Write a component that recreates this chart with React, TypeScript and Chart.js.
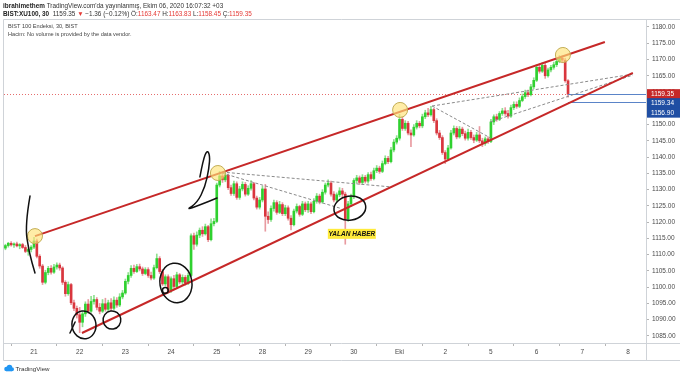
import React, { useEffect, useRef } from "react";
import { Chart, registerables } from "chart.js";
Chart.register(...registerables);

type Bar = [number, number, number, number]; // open, high, low, close

const sep18: Bar[] = [
  [1112.0, 1113.2, 1111.5, 1112.8], [1112.8, 1113.8, 1112.3, 1113.5], [1113.5, 1114.0, 1112.6, 1113.0],
  [1113.0, 1113.6, 1112.2, 1113.3], [1113.3, 1113.9, 1112.4, 1112.7], [1112.7, 1113.4, 1111.8, 1113.1],
  [1113.1, 1113.5, 1111.9, 1112.2], [1112.2, 1112.8, 1110.6, 1111.0], [1111.0, 1112.0, 1109.8, 1111.6],
  [1111.6, 1112.8, 1110.8, 1112.3],
];
const sep21: Bar[] = [
  [1112.3, 1115.3, 1111.8, 1114.2], [1114.2, 1114.8, 1109.0, 1109.5], [1109.5, 1110.0, 1105.8, 1106.5],
  [1106.5, 1107.0, 1100.8, 1101.5], [1101.5, 1105.2, 1101.0, 1104.5], [1104.5, 1106.4, 1103.8, 1105.8],
  [1105.8, 1106.6, 1104.0, 1104.6], [1104.6, 1107.0, 1104.2, 1106.2], [1106.2, 1107.5, 1105.5, 1106.8],
  [1106.8, 1107.4, 1105.2, 1105.9], [1105.9, 1106.3, 1100.8, 1101.5], [1101.5, 1102.0, 1097.2, 1098.0],
  [1098.0, 1101.6, 1097.5, 1100.8], [1100.8, 1101.2, 1094.6, 1095.2], [1095.2, 1096.0, 1092.8, 1093.5],
  [1093.5, 1094.2, 1090.5, 1091.5],
];
const sep22: Bar[] = [
  [1091.5, 1093.8, 1086.0, 1089.2], [1089.2, 1092.5, 1087.8, 1091.8], [1091.8, 1095.5, 1091.0, 1094.8],
  [1094.8, 1096.2, 1092.0, 1092.6], [1092.6, 1097.2, 1092.2, 1095.6], [1095.6, 1097.5, 1094.8, 1096.2],
  [1096.2, 1096.8, 1093.0, 1093.8], [1093.8, 1095.0, 1091.8, 1092.6], [1092.6, 1096.2, 1092.2, 1094.9],
  [1094.9, 1096.6, 1092.6, 1093.2], [1093.2, 1096.0, 1092.5, 1095.2], [1095.2, 1096.5, 1092.8, 1093.5],
  [1093.5, 1097.0, 1093.0, 1096.0], [1096.0, 1096.8, 1093.8, 1094.5], [1094.5, 1098.0, 1094.0, 1097.0],
  [1097.0, 1099.0, 1096.4, 1098.2],
];
const sep23: Bar[] = [
  [1098.2, 1102.5, 1097.8, 1101.8], [1101.8, 1104.5, 1101.0, 1103.6], [1103.6, 1106.6, 1103.0, 1105.8],
  [1105.8, 1106.8, 1104.2, 1104.8], [1104.8, 1107.0, 1104.5, 1106.3], [1106.3, 1107.1, 1105.0, 1105.6],
  [1105.6, 1106.2, 1103.6, 1104.2], [1104.2, 1106.0, 1103.8, 1105.4], [1105.4, 1106.0, 1103.0, 1103.6],
  [1103.6, 1104.6, 1102.2, 1102.8], [1102.8, 1106.8, 1102.4, 1106.0], [1106.0, 1110.2, 1105.6, 1108.8],
  [1108.8, 1109.4, 1104.2, 1104.8], [1104.8, 1105.5, 1100.5, 1101.0], [1101.0, 1103.8, 1100.4, 1103.2],
  [1103.2, 1103.8, 1098.2, 1099.0],
];
const sep24: Bar[] = [
  [1099.0, 1103.2, 1098.4, 1102.6], [1102.6, 1103.6, 1099.6, 1100.2], [1100.2, 1104.6, 1099.8, 1103.8],
  [1103.8, 1104.2, 1101.0, 1101.6], [1101.6, 1103.8, 1100.8, 1103.0], [1103.0, 1103.6, 1100.6, 1101.2],
  [1101.2, 1104.4, 1100.8, 1103.6], [1103.6, 1116.4, 1103.2, 1115.8], [1115.8, 1116.6, 1111.6, 1113.2],
  [1113.2, 1117.0, 1112.6, 1116.0], [1116.0, 1118.2, 1115.2, 1117.5], [1117.5, 1118.6, 1115.6, 1116.4],
  [1116.4, 1119.4, 1116.0, 1118.6], [1118.6, 1119.0, 1114.0, 1114.6], [1114.6, 1121.0, 1114.2, 1119.5],
  [1119.5, 1121.2, 1118.8, 1120.2],
];
const sep25: Bar[] = [
  [1120.2, 1132.0, 1119.8, 1131.4], [1131.4, 1135.6, 1130.8, 1134.2], [1134.2, 1135.2, 1132.2, 1133.0],
  [1133.0, 1135.0, 1132.4, 1134.4], [1134.4, 1134.8, 1130.0, 1130.6], [1130.6, 1131.4, 1128.2, 1128.8],
  [1128.8, 1132.6, 1128.2, 1131.8], [1131.8, 1132.4, 1127.0, 1127.6], [1127.6, 1131.0, 1127.0, 1130.2],
  [1130.2, 1132.4, 1129.6, 1131.6], [1131.6, 1132.2, 1128.0, 1128.6], [1128.6, 1131.2, 1128.2, 1130.4],
  [1130.4, 1132.8, 1129.8, 1131.8], [1131.8, 1132.2, 1126.8, 1127.4], [1127.4, 1128.0, 1124.0, 1124.6],
  [1124.6, 1127.6, 1124.0, 1126.8],
];
const sep28: Bar[] = [
  [1126.8, 1131.0, 1126.2, 1130.2], [1130.2, 1131.6, 1117.2, 1121.8], [1121.8, 1123.2, 1119.6, 1120.8],
  [1120.8, 1125.0, 1120.2, 1124.2], [1124.2, 1126.8, 1123.4, 1126.0], [1126.0, 1126.6, 1122.4, 1123.0],
  [1123.0, 1126.4, 1122.6, 1125.4], [1125.4, 1126.0, 1122.0, 1122.6], [1122.6, 1125.2, 1122.0, 1124.4],
  [1124.4, 1125.0, 1120.6, 1121.2], [1121.2, 1122.0, 1117.6, 1119.2], [1119.2, 1124.0, 1118.8, 1123.4],
  [1123.4, 1125.6, 1122.8, 1124.8], [1124.8, 1125.2, 1121.8, 1122.4], [1122.4, 1126.4, 1122.0, 1125.6],
  [1125.6, 1126.2, 1123.2, 1123.8],
];
const sep29: Bar[] = [
  [1123.8, 1126.4, 1123.0, 1125.6], [1125.6, 1126.2, 1122.6, 1123.2], [1123.2, 1127.2, 1122.8, 1126.4],
  [1126.4, 1128.8, 1125.8, 1128.0], [1128.0, 1128.6, 1125.6, 1126.2], [1126.2, 1130.0, 1125.8, 1129.2],
  [1129.2, 1132.0, 1128.6, 1131.4], [1131.4, 1133.0, 1130.8, 1132.0], [1132.0, 1132.6, 1128.0, 1128.6],
  [1128.6, 1129.4, 1126.2, 1126.8], [1126.8, 1129.0, 1126.2, 1128.4], [1128.4, 1130.6, 1127.8, 1129.6],
  [1129.6, 1130.4, 1127.8, 1128.6], [1128.6, 1129.2, 1113.2, 1121.0], [1121.0, 1126.4, 1120.2, 1125.6],
  [1125.6, 1128.6, 1124.8, 1127.8],
];
const sep30: Bar[] = [
  [1127.8, 1133.4, 1127.2, 1132.8], [1132.8, 1134.4, 1132.0, 1133.6], [1133.6, 1134.2, 1131.6, 1132.2],
  [1132.2, 1134.6, 1131.6, 1133.8], [1133.8, 1134.4, 1132.0, 1132.6], [1132.6, 1135.2, 1132.0, 1134.6],
  [1134.6, 1135.4, 1132.8, 1133.4], [1133.4, 1136.6, 1133.0, 1135.8], [1135.8, 1137.4, 1135.2, 1136.6],
  [1136.6, 1137.2, 1135.0, 1135.6], [1135.6, 1138.8, 1135.2, 1138.0], [1138.0, 1140.4, 1137.6, 1139.6],
  [1139.6, 1140.2, 1138.0, 1138.6], [1138.6, 1143.0, 1138.2, 1142.2], [1142.2, 1145.4, 1141.6, 1144.6],
  [1144.6, 1146.6, 1144.0, 1145.8],
];
const oct1: Bar[] = [
  [1145.8, 1153.2, 1145.2, 1151.6], [1151.6, 1152.4, 1148.2, 1148.8], [1148.8, 1151.2, 1148.2, 1150.4],
  [1150.4, 1151.0, 1146.8, 1147.4], [1147.4, 1148.4, 1143.2, 1146.8], [1146.8, 1150.0, 1146.4, 1149.2],
  [1149.2, 1151.2, 1148.6, 1150.4], [1150.4, 1151.0, 1149.0, 1149.6], [1149.6, 1153.2, 1149.0, 1152.4],
  [1152.4, 1154.4, 1151.8, 1153.6], [1153.6, 1155.0, 1152.4, 1153.0], [1153.0, 1155.6, 1152.6, 1154.6],
  [1154.6, 1155.0, 1150.6, 1151.2], [1151.2, 1151.8, 1146.8, 1147.4], [1147.4, 1148.2, 1145.4, 1146.0],
  [1146.0, 1146.6, 1140.8, 1141.4],
];
const oct2: Bar[] = [
  [1141.4, 1142.0, 1138.0, 1139.4], [1139.4, 1143.6, 1139.0, 1142.8], [1142.8, 1148.2, 1142.4, 1147.4],
  [1147.4, 1149.6, 1146.8, 1148.8], [1148.8, 1149.4, 1145.6, 1146.2], [1146.2, 1149.4, 1145.8, 1148.6],
  [1148.6, 1149.2, 1146.6, 1147.2], [1147.2, 1148.0, 1145.2, 1145.8], [1145.8, 1148.6, 1145.2, 1147.6],
  [1147.6, 1148.2, 1145.4, 1146.0], [1146.0, 1146.8, 1144.4, 1145.2], [1145.2, 1147.6, 1144.8, 1146.8],
  [1146.8, 1149.4, 1144.4, 1145.0], [1145.0, 1145.8, 1143.2, 1144.2], [1144.2, 1146.2, 1143.6, 1145.6],
  [1145.6, 1146.2, 1144.2, 1144.8],
];
const oct5: Bar[] = [
  [1144.8, 1151.6, 1144.4, 1150.8], [1150.8, 1153.0, 1150.0, 1152.4], [1152.4, 1153.2, 1151.0, 1151.6],
  [1151.6, 1154.0, 1151.2, 1153.4], [1153.4, 1155.0, 1152.8, 1154.2], [1154.2, 1155.2, 1152.8, 1153.4],
  [1153.4, 1154.4, 1152.0, 1152.6], [1152.6, 1156.0, 1152.2, 1155.2], [1155.2, 1157.0, 1154.6, 1156.2],
  [1156.2, 1157.0, 1155.0, 1155.6], [1155.6, 1158.2, 1155.2, 1157.4], [1157.4, 1159.4, 1157.0, 1158.6],
  [1158.6, 1160.6, 1158.0, 1159.8], [1159.8, 1160.6, 1158.6, 1159.2], [1159.2, 1162.4, 1158.8, 1161.6],
  [1161.6, 1164.4, 1161.0, 1163.6],
];
const oct6: Bar[] = [
  [1163.6, 1168.4, 1163.2, 1167.6], [1167.6, 1168.6, 1165.8, 1166.4], [1166.4, 1169.0, 1166.0, 1168.2],
  [1168.2, 1168.8, 1164.2, 1165.0], [1165.0, 1167.4, 1164.6, 1166.8], [1166.8, 1168.2, 1166.2, 1167.6],
  [1167.6, 1169.2, 1167.0, 1168.4], [1168.4, 1170.2, 1167.8, 1169.4], [1169.4, 1171.2, 1169.0, 1170.4],
  [1170.4, 1171.2, 1169.0, 1169.8], [1169.8, 1170.4, 1163.0, 1163.47], [1163.47, 1163.83, 1158.45, 1159.35],
];

const sessions: Bar[][] = [sep18, sep21, sep22, sep23, sep24, sep25, sep28, sep29, sep30, oct1, oct2, oct5, oct6];
const sessionStart = [-10, 0, 16, 32, 48, 64, 80, 96, 112, 128, 144, 160, 176];

const dayTickIndex = [0, 16, 32, 48, 64, 80, 96, 112, 128, 144, 160, 176, 192, 208];
const dayTickLabels = ["21", "22", "23", "24", "25", "28", "29", "30", "Eki", "2", "5", "6", "7", "8"];
const priceTicks = [1085, 1090, 1095, 1100, 1105, 1110, 1115, 1120, 1125, 1130, 1135, 1140, 1145, 1150, 1155, 1160, 1165, 1170, 1175, 1180];

const lastClose = 1159.35;
const lastIndex = 187;
const blueLevels = [1159.34, 1156.9];

// drawings in (bar index, price)
const upperChannel = [[0.35, 1115.7], [199.9, 1175.4]];
const lowerChannel = [[16.8, 1085.9], [209.7, 1165.9]];
const dashedLines = [
  [[65.8, 1135.4], [125.4, 1130.8]],
  [[65.8, 1135.1], [107.1, 1124.3]],
  [[139.4, 1155.7], [160.4, 1145.6]],
  [[139.4, 1155.7], [209.7, 1165.5]],
  [[159.7, 1150.8], [209.7, 1165.2]],
];
const touchPoints = [[0.35, 1115.7], [64.4, 1135.1], [128.2, 1154.5], [185.2, 1171.4]];
const penStrokes = [
  [[-1.4, 1128.0], [-3.15, 1119.1], [-1.75, 1110.8], [0.35, 1104.35]],
  [[58.1, 1133.9], [59.2, 1139.1], [60.6, 1142.2], [61.6, 1140.6], [61.3, 1136.6], [59.9, 1130.8], [57.1, 1125.9], [53.2, 1123.7], [58.1, 1125.3], [64.1, 1127.4]],
  [[12.6, 1085.9], [14.4, 1089.3]],
];
const penEllipses = [
  // cx, cy, rx (bars), ry (price)
  [17.5, 1088.4, 4.2, 4.3],
  [27.3, 1089.9, 3.1, 2.8],
  [49.7, 1101.3, 5.6, 6.1],
  [46.0, 1099.0, 1.0, 0.9],
  [110.6, 1124.3, 5.6, 3.7],
];
const noteLabel = { text: "YALAN HABER", x: 111.3, y: 1116.4 };

const FONT = '"Liberation Sans", Arial, sans-serif';
const GREEN = "#2fd12f";
const RED = "#d9363e";
const GREEN_WICK = "#8fe08f";
const RED_WICK = "#e89aa0";

function smoothPath(ctx: CanvasRenderingContext2D, pts: number[][]) {
  ctx.beginPath();
  ctx.moveTo(pts[0][0], pts[0][1]);
  for (let i = 1; i < pts.length - 1; i++) {
    const mx = (pts[i][0] + pts[i + 1][0]) / 2;
    const my = (pts[i][1] + pts[i + 1][1]) / 2;
    ctx.quadraticCurveTo(pts[i][0], pts[i][1], mx, my);
  }
  const l = pts[pts.length - 1];
  ctx.lineTo(l[0], l[1]);
  ctx.stroke();
}

function drawRich(ctx: CanvasRenderingContext2D, x: number, y: number, parts: [string, string, boolean][], size: number) {
  let cx = x;
  for (const [t, color, bold] of parts) {
    ctx.font = `${bold ? "bold " : ""}${size}px ${FONT}`;
    ctx.fillStyle = color;
    ctx.fillText(t, cx, y);
    cx += ctx.measureText(t).width;
  }
}

const overlayPlugin = {
  id: "overlay",
  afterDatasetsDraw(chart: any) {
    const ctx: CanvasRenderingContext2D = chart.ctx;
    const xs = chart.scales.x;
    const ys = chart.scales.y;
    const X = (v: number) => xs.getPixelForValue(v);
    const Y = (v: number) => ys.getPixelForValue(v);
    const ca = chart.chartArea;
    ctx.save();

    // current price dotted line
    ctx.strokeStyle = "rgba(220,60,60,0.75)";
    ctx.lineWidth = 1;
    ctx.setLineDash([1, 2]);
    ctx.beginPath();
    ctx.moveTo(ca.left, Math.round(Y(lastClose)) + 0.5);
    ctx.lineTo(ca.right, Math.round(Y(lastClose)) + 0.5);
    ctx.stroke();
    ctx.setLineDash([]);

    // blue horizontal levels
    ctx.strokeStyle = "#5a84c8";
    for (const lv of blueLevels) {
      ctx.beginPath();
      ctx.moveTo(X(lastIndex), Math.round(Y(lv)) + 0.5);
      ctx.lineTo(ca.right, Math.round(Y(lv)) + 0.5);
      ctx.stroke();
    }

    // dashed lines
    ctx.strokeStyle = "#8a8a8a";
    ctx.setLineDash([3, 2]);
    for (const seg of dashedLines) {
      ctx.beginPath();
      ctx.moveTo(X(seg[0][0]), Y(seg[0][1]));
      ctx.lineTo(X(seg[1][0]), Y(seg[1][1]));
      ctx.stroke();
    }
    ctx.setLineDash([]);

    // channel lines
    ctx.strokeStyle = "#c62828";
    ctx.lineWidth = 2;
    for (const seg of [upperChannel, lowerChannel]) {
      ctx.beginPath();
      ctx.moveTo(X(seg[0][0]), Y(seg[0][1]));
      ctx.lineTo(X(seg[1][0]), Y(seg[1][1]));
      ctx.stroke();
    }

    // touch circles
    ctx.lineWidth = 1;
    for (const p of touchPoints) {
      ctx.beginPath();
      ctx.arc(X(p[0]), Y(p[1]), 7.5, 0, Math.PI * 2);
      ctx.fillStyle = "rgba(255,228,120,0.65)";
      ctx.fill();
      ctx.strokeStyle = "#c2ad55";
      ctx.stroke();
    }

    // pen drawings
    ctx.strokeStyle = "#111";
    ctx.lineWidth = 1.5;
    ctx.lineCap = "round";
    ctx.lineJoin = "round";
    for (const s of penStrokes) {
      smoothPath(ctx, s.map((p) => [X(p[0]), Y(p[1])]));
    }
    for (const e of penEllipses) {
      const cx = X(e[0]);
      const cy = Y(e[1]);
      const rx = Math.abs(X(e[0] + e[2]) - cx);
      const ry = Math.abs(Y(e[1] + e[3]) - cy);
      ctx.beginPath();
      ctx.ellipse(cx, cy, rx, ry, -0.15, 0, Math.PI * 2);
      ctx.stroke();
    }

    // note label
    const nx = X(noteLabel.x);
    const ny = Y(noteLabel.y);
    ctx.fillStyle = "#ffeb3b";
    ctx.fillRect(nx - 24, ny - 5, 48, 10);
    ctx.fillStyle = "#111";
    ctx.font = `italic bold 6.5px ${FONT}`;
    ctx.textAlign = "center";
    ctx.textBaseline = "middle";
    ctx.fillText(noteLabel.text, nx, ny + 0.5);
    ctx.restore();
  },
  afterDraw(chart: any) {
    const ctx: CanvasRenderingContext2D = chart.ctx;
    const ys = chart.scales.y;
    const ca = chart.chartArea;
    ctx.save();
    // frame
    ctx.strokeStyle = "#cfd3d8";
    ctx.lineWidth = 1;
    ctx.beginPath();
    ctx.moveTo(3.5, 360.5);
    ctx.lineTo(3.5, 19.5);
    ctx.lineTo(680, 19.5);
    ctx.moveTo(3.5, 360.5);
    ctx.lineTo(680, 360.5);
    ctx.moveTo(3.5, ca.bottom + 0.5);
    ctx.lineTo(680, ca.bottom + 0.5);
    ctx.moveTo(ca.right + 0.5, 19.5);
    ctx.lineTo(ca.right + 0.5, 360.5);
    ctx.stroke();

    // price labels on axis
    const yl = ys.getPixelForValue(lastClose);
    const boxes: [number, string, string][] = [
      [yl, lastClose.toFixed(2), "#c62828"],
      [yl + 9, blueLevels[0].toFixed(2), "#1f4ea3"],
      [yl + 18.5, blueLevels[1].toFixed(2), "#1f4ea3"],
    ];
    ctx.textBaseline = "middle";
    ctx.textAlign = "left";
    ctx.font = `6.5px ${FONT}`;
    for (const [y, t, c] of boxes) {
      ctx.fillStyle = c;
      ctx.fillRect(ca.right + 1, y - 5, 680 - ca.right - 1, 10);
      ctx.fillStyle = "#fff";
      ctx.fillText(t, ca.right + 5, y + 0.5);
    }

    // header texts
    ctx.textBaseline = "middle";
    drawRich(ctx, 3, 6, [
      ["ibrahimethem", "#222", true],
      [" TradingView.com'da yayınlanmış, Ekim 06, 2020 16:07:32 +03", "#333", false],
    ], 6.4);
    drawRich(ctx, 3, 14, [
      ["BIST:XU100, 30", "#222", true],
      ["  1159.35 ", "#333", false],
      ["▼", "#e53935", false],
      [" −1.36 (−0.12%) Ö:", "#333", false],
      ["1163.47", "#e53935", false],
      [" H:", "#333", false],
      ["1163.83", "#e53935", false],
      [" L:", "#333", false],
      ["1158.45", "#e53935", false],
      [" Ç:", "#333", false],
      ["1159.35", "#e53935", false],
    ], 6.4);
    drawRich(ctx, 8, 26, [["BIST 100 Endeksi, 30, BIST", "#444", false]], 5.6);
    drawRich(ctx, 8, 34, [["Hacim: No volume is provided by the data vendor.", "#444", false]], 5.6);

    // TradingView logo
    ctx.fillStyle = "#2196f3";
    ctx.beginPath();
    ctx.arc(6.5, 369, 2.3, 0, Math.PI * 2);
    ctx.arc(9.5, 367.5, 2.8, 0, Math.PI * 2);
    ctx.arc(12, 369.3, 2, 0, Math.PI * 2);
    ctx.fill();
    ctx.fillRect(6.5, 369, 5.5, 2.3);
    drawRich(ctx, 15.5, 369, [["TradingView", "#333", false]], 6.2);
    ctx.restore();
  },
};

export default function App() {
  const ref = useRef<HTMLCanvasElement | null>(null);
  useEffect(() => {
    const bodies: any[] = [];
    const wicks: any[] = [];
    const bodyColors: string[] = [];
    const wickColors: string[] = [];
    sessions.forEach((bars, s) => {
      bars.forEach((b, j) => {
        const idx = sessionStart[s] + j;
        const up = b[3] >= b[0];
        bodies.push({ x: idx, y: [b[0], b[3]] });
        wicks.push({ x: idx, y: [b[2], b[1]] });
        bodyColors.push(up ? GREEN : RED);
        wickColors.push(up ? GREEN_WICK : RED_WICK);
      });
    });
    const chart = new Chart(ref.current as HTMLCanvasElement, {
      type: "bar",
      data: {
        datasets: [
          { data: bodies, backgroundColor: bodyColors, barThickness: 2, grouped: false, minBarLength: 1, order: 0 } as any,
          { data: wicks, backgroundColor: wickColors, barThickness: 1, grouped: false, order: 1 } as any,
        ],
      },
      options: {
        responsive: false,
        animation: false,
        events: [],
        layout: { padding: { top: 20, left: 4, right: 0, bottom: 16 } },
        plugins: { legend: { display: false }, tooltip: { enabled: false } },
        scales: {
          x: {
            type: "linear",
            min: -10.5,
            max: 214.3,
            offset: false,
            border: { display: false },
            grid: { drawOnChartArea: false, tickLength: 3, color: "#b5b5b5" },
            ticks: {
              autoSkip: false,
              maxRotation: 0,
              padding: 2,
              color: "#4a4a4a",
              font: { family: FONT, size: 6.5 },
              callback: (v: any) => {
                const i = dayTickIndex.indexOf(Number(v));
                return i >= 0 ? dayTickLabels[i] : "";
              },
            },
            afterBuildTicks: (s: any) => {
              s.ticks = dayTickIndex.map((v) => ({ value: v }));
            },
            afterFit: (s: any) => {
              s.height = 17;
            },
          },
          y: {
            position: "right",
            min: 1082.83,
            max: 1182.15,
            border: { display: false },
            grid: { drawOnChartArea: false, tickLength: 3, color: "#b5b5b5" },
            ticks: {
              padding: 3,
              color: "#4a4a4a",
              font: { family: FONT, size: 6.5 },
              callback: (v: any) => Number(v).toFixed(2),
            },
            afterBuildTicks: (s: any) => {
              s.ticks = priceTicks.map((v) => ({ value: v }));
            },
            afterFit: (s: any) => {
              s.width = 34;
            },
          },
        },
      } as any,
      plugins: [overlayPlugin],
    });
    return () => chart.destroy();
  }, []);
  return (
    <div style={{ position: "fixed", left: 0, top: 0, width: 680, height: 376, background: "#fff" }}>
      <canvas ref={ref} width={680} height={376} style={{ display: "block" }} />
    </div>
  );
}
